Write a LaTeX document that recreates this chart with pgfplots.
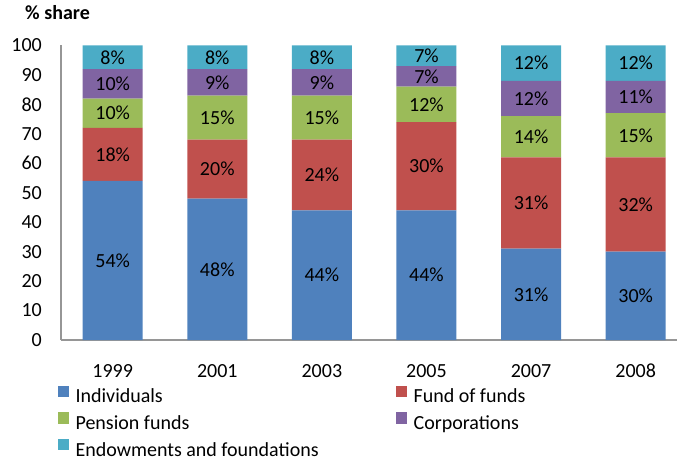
\documentclass[border=0pt]{standalone}
\usepackage{fontspec}
\setmainfont{Carlito}
\usepackage{pgfplots}
\usepackage{pgfplotstable}
\pgfplotsset{compat=1.18}
\definecolor{cInd}{HTML}{4F81BD}
\definecolor{cFof}{HTML}{C0504D}
\definecolor{cPen}{HTML}{9BBB59}
\definecolor{cCor}{HTML}{8064A2}
\definecolor{cEnd}{HTML}{4BACC6}
\definecolor{axgray}{HTML}{969696}
\pgfplotstableread{
x ind fof pen cor end
0 54 18 10 10 8
1 48 20 15 9 8
2 44 24 15 9 8
3 44 30 12 7 7
4 31 31 14 12 12
5 30 32 15 11 12
}\sharedata
\newcommand{\chartfont}{\fontsize{20}{24}\selectfont}
\pgfplotsset{
  seg/.style={fill=#1, draw=none},
  sqimg/.style={legend image code/.code={\fill[#1] (0pt,0pt) rectangle (10.5pt,10.5pt);}},
}
\begin{document}
\begin{tikzpicture}
\path[use as bounding box] (0,0) rectangle (677pt,461pt);
\node[anchor=base west, inner sep=0pt, font=\chartfont\bfseries] at (25pt,441pt) {\% share};
\begin{axis}[
  at={(61pt,121pt)}, anchor=south west,
  scale only axis, width=616pt, height=294.5pt,
  ybar stacked, bar width=60pt,
  xmin=-0.494, xmax=5.395, ymin=0, ymax=100,
  enlargelimits=false, clip=false,
  axis x line*=bottom, axis y line*=left,
  axis line style={draw=axgray, line width=1.3pt},
  tick style={draw=none}, major tick length=0pt,
  ytick={0,10,...,100},
  xtick={0,...,5},
  xticklabels={1999,2001,2003,2005,2007,2008},
  /pgf/number format/assume math mode=true,
  tick label style={font=\chartfont, text=black},
  yticklabel style={anchor=east, inner sep=0pt, xshift=-19pt},
  xticklabel style={anchor=base, inner sep=0pt, yshift=-37.5pt},
  point meta=explicit symbolic,
  nodes near coords={\pgfplotspointmeta\%},
  every node near coord/.append style={anchor=center, inner sep=0pt,
      font=\chartfont, text=black},
  legend columns=2,
  legend cell align=left,
  legend style={at={(0,0)}, anchor=north west, xshift=-3.3pt, yshift=-45.5pt,
    draw=none, fill=none, inner sep=0pt, outer sep=0pt, font=\chartfont,
    row sep=9.5pt,
    nodes={inner sep=0pt, text height=13pt, text depth=0pt},
    /tikz/every odd column/.append style={column sep=7pt},
    /tikz/every even column/.append style={column sep=77pt}},
]
\addlegendimage{sqimg=cInd}\addlegendentry{Individuals}
\addlegendimage{sqimg=cFof}\addlegendentry{Fund of funds}
\addlegendimage{sqimg=cPen}\addlegendentry{Pension funds}
\addlegendimage{sqimg=cCor}\addlegendentry{Corporations}
\addlegendimage{sqimg=cEnd}\addlegendentry{Endowments and foundations}
\addplot[seg=cInd, forget plot] table[x=x, y=ind, meta=ind] {\sharedata};
\addplot[seg=cFof, forget plot] table[x=x, y=fof, meta=fof] {\sharedata};
\addplot[seg=cPen, forget plot] table[x=x, y=pen, meta=pen] {\sharedata};
\addplot[seg=cCor, forget plot] table[x=x, y=cor, meta=cor] {\sharedata};
\addplot[seg=cEnd, forget plot] table[x=x, y=end, meta=end] {\sharedata};
\end{axis}
\end{tikzpicture}
\end{document}
